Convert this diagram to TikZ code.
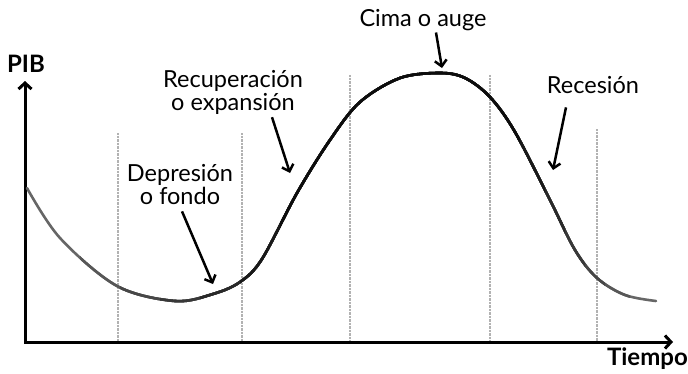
\documentclass[tikz,border=0pt]{standalone}
\usepackage{fontspec}
\setmainfont{Lato}
\usetikzlibrary{arrows.meta}

\newcommand{\ciclo}{plot[smooth, tension=0.55] coordinates {
    (27,188) (60,238) (117,286) (175,301) (213,294) (240,282) (262,259)
    (297,193) (330,140) (360,102) (400,78) (440,73) (465,78) (490,97)
    (515,132) (550,200) (575,250) (597,278) (625,295) (656,301)}}

\begin{document}
\begin{tikzpicture}[x=1pt,y=-1pt,
    eje/.style={line width=3pt, line join=miter,
      {Straight Barb[length=6pt,width=13pt]}-{Straight Barb[length=6pt,width=13pt]}},
    division/.style={gray!60, line width=1.8pt, dash pattern=on 0.7pt off 0.7pt},
    curva/.style={line width=2.6pt, line cap=round},
    flecha/.style={line width=2.5pt, -{Straight Barb[length=6pt,width=12pt]}},
    rotulo/.style={font=\fontsize{23.5}{23}\selectfont, align=center, inner sep=1pt},
    titulo/.style={font=\fontsize{24}{26}\selectfont\bfseries, inner sep=0pt}
  ]
  \useasboundingbox (0,0) rectangle (688,373);

  % Divisiones entre fases
  \foreach \x/\y in {118/133, 242/133, 350/75, 490/75, 597/129}
    \draw[division] (\x,\y) -- (\x,342);

  % Ejes
  \coordinate (origen) at (25,342);
  \coordinate (ypunta) at (25,81);
  \coordinate (xpunta) at (673,342);
  \draw[eje] (ypunta) -- (origen) -- (xpunta);
  \node[titulo, anchor=base] (pib) at (26,72) {PIB};
  \node[titulo, anchor=base east] (tiempo) at (688,365) {Tiempo};

  % Ciclo economico (extremos grises, centro negro)
  \foreach \a/\b/\tono in {0/688/60, 80/630/66, 120/605/72, 160/585/78,
                           200/565/84, 240/545/90, 280/520/95}{
    \begin{scope}
      \clip (\a,0) rectangle (\b,373);
      \draw[curva, black!\tono] \ciclo;
    \end{scope}
  }

  % Fases
  \node[rotulo, anchor=base] (cima) at (423,26) {Cima o auge};
  \node[rotulo, anchor=base] (recesion) at (593,93) {Recesión};
  \node[rotulo, anchor=base] (recuperacion) at (233,110) {Recuperación\\o expansión};
  \node[rotulo, anchor=base] (depresion) at (180,204) {Depresión\\o fondo};

  % Flechas hacia la curva
  \coordinate (pcima) at (442,68);
  \coordinate (precesion) at (553,170);
  \coordinate (pexpansion) at (290,173);
  \coordinate (pfondo) at (213,284);
  \draw[flecha] ([xshift=13pt,yshift=-1pt]cima.south) -- (pcima);
  \draw[flecha] ([xshift=-27pt,yshift=-13pt]recesion.south) -- (precesion);
  \draw[flecha] ([xshift=39pt,yshift=-2pt]recuperacion.south) -- (pexpansion);
  \draw[flecha] ([xshift=2pt,yshift=-6pt]depresion.south) -- (pfondo);
\end{tikzpicture}
\end{document}
